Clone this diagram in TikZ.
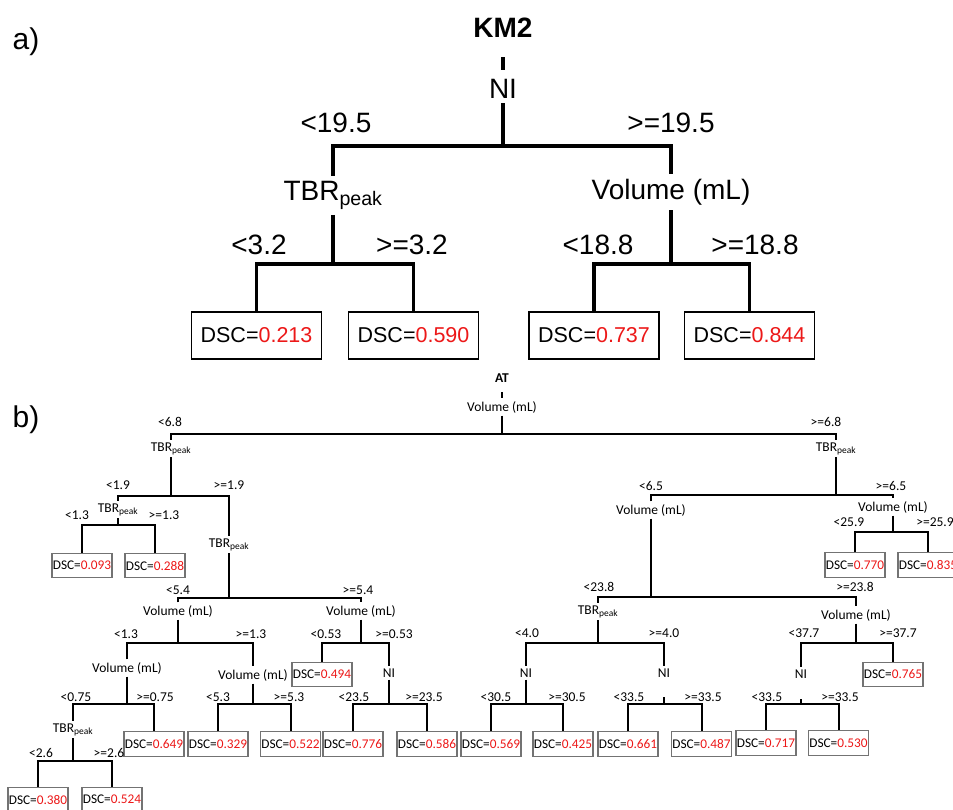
\documentclass[tikz,border=0pt]{standalone}
\usepackage{fontspec}
\setmainfont{Liberation Sans}
\newfontfamily\calfont{Carlito}
\definecolor{dscred}{RGB}{236,24,24}
\newcommand{\dscval}[1]{DSC=\textcolor{dscred}{#1}}
\begin{document}
\begin{tikzpicture}[x=1pt,y=1pt,yscale=-1,
  edgea/.style={line width=3.3pt},
  edgeb/.style={line width=2pt},
  txta/.style={font=\fontsize{28}{30}\selectfont, anchor=base, inner sep=5pt},
  lbla/.style={font=\fontsize{28}{30}\selectfont, anchor=base, inner sep=0pt},
  leafa/.style={draw, line width=1.6pt, minimum width=130pt, minimum height=47pt, inner sep=1pt, font=\fontsize{21.5}{24}\selectfont},
  txtb/.style={font=\calfont\fontsize{13.5}{15}\selectfont, anchor=base, inner sep=2.5pt},
  lblb/.style={font=\calfont\fontsize{13.5}{15}\selectfont, anchor=base, inner sep=0pt},
  leafb/.style={draw=black!55, line width=1.2pt, minimum width=60pt, minimum height=24.5pt, inner sep=0.5pt, font=\calfont\fontsize{13.3}{15}\selectfont},
]
\useasboundingbox (0,0) rectangle (953,809);

\node[font=\fontsize{30}{32}\selectfont] (taga) at (26,42) {a)};
\node[txta, font=\fontsize{28}{30}\selectfont\bfseries] (km2) at (503,37) {KM2};
\node[txta] (niA) at (503,98) {NI};
\node[txta] (tbrA) at (333,200) {TBR\textsubscript{peak}};
\node[txta] (volA) at (671,199) {Volume (mL)};
\coordinate (sA0) at (503,146);
\coordinate (sA1) at (333,264);
\coordinate (sA2) at (671,264);
\node[leafa] (a213) at (256.5,335.5) {\dscval{0.213}};
\node[leafa] (a590) at (413.5,335.5) {\dscval{0.590}};
\node[leafa] (a737) at (594,335.5) {\dscval{0.737}};
\node[leafa] (a844) at (749.5,335.5) {\dscval{0.844}};
\node[lbla] (la1) at (336,132) {<19.5};
\node[lbla] (la2) at (671,132) {>=19.5};
\node[lbla] (la3) at (259,254) {<3.2};
\node[lbla] (la4) at (412,254) {>=3.2};
\node[lbla] (la5) at (598,254) {<18.8};
\node[lbla] (la6) at (755,254) {>=18.8};
\draw[edgea, shorten <=15pt, shorten >=4pt] (km2) -- (niA);
\draw[edgea] (niA) -- (sA0);
\draw[edgea] (tbrA.north) |- (sA0) -| (volA.north);
\draw[edgea] (tbrA) -- (sA1);
\draw[edgea] (a213.north) |- (sA1) -| (a590.north);
\draw[edgea] (volA) -- (sA2);
\draw[edgea] (a737.north) |- (sA2) -| (a844.north);

\node[font=\fontsize{30}{32}\selectfont] (tagb) at (26,420) {b)};
\node[txtb, font=\calfont\fontsize{13.5}{15}\selectfont\bfseries] (at) at (502,382) {AT};
\node[txtb] (vol0) at (502,411) {Volume (mL)};
\node[txtb] (tbr1) at (171,451) {TBR\textsubscript{peak}};
\node[txtb] (tbr2) at (836,451) {TBR\textsubscript{peak}};
\node[txtb] (tbr3) at (118,512) {TBR\textsubscript{peak}};
\node[txtb] (tbr4) at (229,547) {TBR\textsubscript{peak}};
\node[txtb] (vol1) at (178,615) {Volume (mL)};
\node[txtb] (vol2) at (361,615) {Volume (mL)};
\node[txtb] (vol3) at (127,672) {Volume (mL)};
\node[txtb] (vol4) at (253,679) {Volume (mL)};
\node[txtb] (tbr5) at (73,732) {TBR\textsubscript{peak}};
\node[txtb] (ni1) at (389,677) {NI};
\node[txtb] (vol5) at (651,514) {Volume (mL)};
\node[txtb] (vol6) at (893,511) {Volume (mL)};
\node[txtb] (tbr6) at (598,614) {TBR\textsubscript{peak}};
\node[txtb] (vol7) at (856,619) {Volume (mL)};
\node[txtb] (ni2) at (526,677) {NI};
\node[txtb] (ni3) at (664,677) {NI};
\node[txtb] (ni4) at (801,678) {NI};

\node[leafb] (d093) at (82,565.5) {\dscval{0.093}};
\node[leafb] (d288) at (155,565.5) {\dscval{0.288}};
\node[leafb] (d649) at (154,744) {\dscval{0.649}};
\node[leafb] (d380) at (38,799.5) {\dscval{0.380}};
\node[leafb] (d524) at (112,799.5) {\dscval{0.524}};
\node[leafb] (d329) at (218,744) {\dscval{0.329}};
\node[leafb] (d522) at (290.5,744) {\dscval{0.522}};
\node[leafb] (d494) at (322,674.5) {\dscval{0.494}};
\node[leafb] (d776) at (353,744) {\dscval{0.776}};
\node[leafb] (d586) at (427,744) {\dscval{0.586}};
\node[leafb] (d770) at (855,565) {\dscval{0.770}};
\node[leafb] (d835) at (928,565) {\dscval{0.835}};
\node[leafb] (d569) at (491,744) {\dscval{0.569}};
\node[leafb] (d425) at (563,744) {\dscval{0.425}};
\node[leafb] (d661) at (628,744) {\dscval{0.661}};
\node[leafb] (d487) at (701.5,744) {\dscval{0.487}};
\node[leafb] (d765) at (893,674.5) {\dscval{0.765}};
\node[leafb] (d717) at (766,743) {\dscval{0.717}};
\node[leafb] (d530) at (838.5,743) {\dscval{0.530}};

\node[lblb] (lb1) at (170,426.5) {<6.8};
\node[lblb] (lb2) at (826,426.5) {>=6.8};
\node[lblb] (lb3) at (118,489.5) {<1.9};
\node[lblb] (lb4) at (229,489.5) {>=1.9};
\node[lblb] (lb5) at (77,519.5) {<1.3};
\node[lblb] (lb6) at (164,519.5) {>=1.3};
\node[lblb] (lb7) at (178,594.5) {<5.4};
\node[lblb] (lb8) at (358,594.5) {>=5.4};
\node[lblb] (lb9) at (126,638.5) {<1.3};
\node[lblb] (lb10) at (251,638.5) {>=1.3};
\node[lblb] (lb11) at (76,701.5) {<0.75};
\node[lblb] (lb12) at (155,701.5) {>=0.75};
\node[lblb] (lb13) at (41,757.5) {<2.6};
\node[lblb] (lb14) at (109,757.5) {>=2.6};
\node[lblb] (lb15) at (218,701.5) {<5.3};
\node[lblb] (lb16) at (289,701.5) {>=5.3};
\node[lblb] (lb17) at (326,638.5) {<0.53};
\node[lblb] (lb18) at (394,638.5) {>=0.53};
\node[lblb] (lb19) at (354,701.5) {<23.5};
\node[lblb] (lb20) at (424,701.5) {>=23.5};
\node[lblb] (lb21) at (651,490.5) {<6.5};
\node[lblb] (lb22) at (891,490.5) {>=6.5};
\node[lblb] (lb23) at (849,526.5) {<25.9};
\node[lblb] (lb24) at (935,526.5) {>=25.9};
\node[lblb] (lb25) at (599,591.5) {<23.8};
\node[lblb] (lb26) at (855,591.5) {>=23.8};
\node[lblb] (lb27) at (527,637.5) {<4.0};
\node[lblb] (lb28) at (664,637.5) {>=4.0};
\node[lblb] (lb29) at (496,701.5) {<30.5};
\node[lblb] (lb30) at (567,701.5) {>=30.5};
\node[lblb] (lb31) at (629,701.5) {<33.5};
\node[lblb] (lb32) at (703,701.5) {>=33.5};
\node[lblb] (lb33) at (804,637.5) {<37.7};
\node[lblb] (lb34) at (898,637.5) {>=37.7};
\node[lblb] (lb35) at (767,701.5) {<33.5};
\node[lblb] (lb36) at (840,701.5) {>=33.5};

\coordinate (s1) at (502,434);
\coordinate (s2) at (171,496);
\coordinate (s3) at (118,525);
\coordinate (s4) at (229,598);
\coordinate (s5) at (178,643);
\coordinate (s6) at (127,704);
\coordinate (s7) at (73,761);
\coordinate (s8) at (253,704);
\coordinate (s9) at (361,643);
\coordinate (s10) at (389,704);
\coordinate (s11) at (836,495);
\coordinate (s12) at (893,532);
\coordinate (s13) at (651,597);
\coordinate (s14) at (598,643);
\coordinate (s15) at (526,704);
\coordinate (s16) at (664,704);
\coordinate (s17) at (856,643);
\coordinate (s18) at (801,704);

\draw[edgeb, shorten <=7.5pt] (at) -- (vol0);
\draw[edgeb] (vol0) -- (s1);
\draw[edgeb] (tbr1.north) |- (s1) -| (tbr2.north);
\draw[edgeb] (tbr1) -- (s2);
\draw[edgeb] (tbr3.north) |- (s2) -| (tbr4.north);
\draw[edgeb] (tbr3) -- (s3);
\draw[edgeb] (d093.north) |- (s3) -| (d288.north);
\draw[edgeb] (tbr4) -- (s4);
\draw[edgeb] (vol1.north) |- (s4) -| (vol2.north);
\draw[edgeb] (vol1) -- (s5);
\draw[edgeb] (vol3.north) |- (s5) -| (vol4.north);
\draw[edgeb] (vol3) -- (s6);
\draw[edgeb] (tbr5.north) |- (s6) -| (d649.north);
\draw[edgeb] (tbr5) -- (s7);
\draw[edgeb] (d380.north) |- (s7) -| (d524.north);
\draw[edgeb] (vol4) -- (s8);
\draw[edgeb] (d329.north) |- (s8) -| (d522.north);
\draw[edgeb] (vol2) -- (s9);
\draw[edgeb] (d494.north) |- (s9) -| (ni1.north);
\draw[edgeb] (ni1) -- (s10);
\draw[edgeb] (d776.north) |- (s10) -| (d586.north);
\draw[edgeb] (tbr2) -- (s11);
\draw[edgeb] (vol5.north) |- (s11) -| (vol6.north);
\draw[edgeb] (vol6) -- (s12);
\draw[edgeb] (d770.north) |- (s12) -| (d835.north);
\draw[edgeb] (vol5) -- (s13);
\draw[edgeb] (tbr6.north) |- (s13) -| (vol7.north);
\draw[edgeb] (tbr6) -- (s14);
\draw[edgeb] (ni2.north) |- (s14) -| (ni3.north);
\draw[edgeb] (ni2) -- (s15);
\draw[edgeb] (d569.north) |- (s15) -| (d425.north);
\draw[edgeb, shorten <=17.5pt] (ni3) -- (s16);
\draw[edgeb] (d661.north) |- (s16) -| (d487.north);
\draw[edgeb] (vol7) -- (s17);
\draw[edgeb] (ni4.north) |- (s17) -| (d765.north);
\draw[edgeb, shorten <=18.5pt] (ni4) -- (s18);
\draw[edgeb] (d717.north) |- (s18) -| (d530.north);
\end{tikzpicture}
\end{document}
